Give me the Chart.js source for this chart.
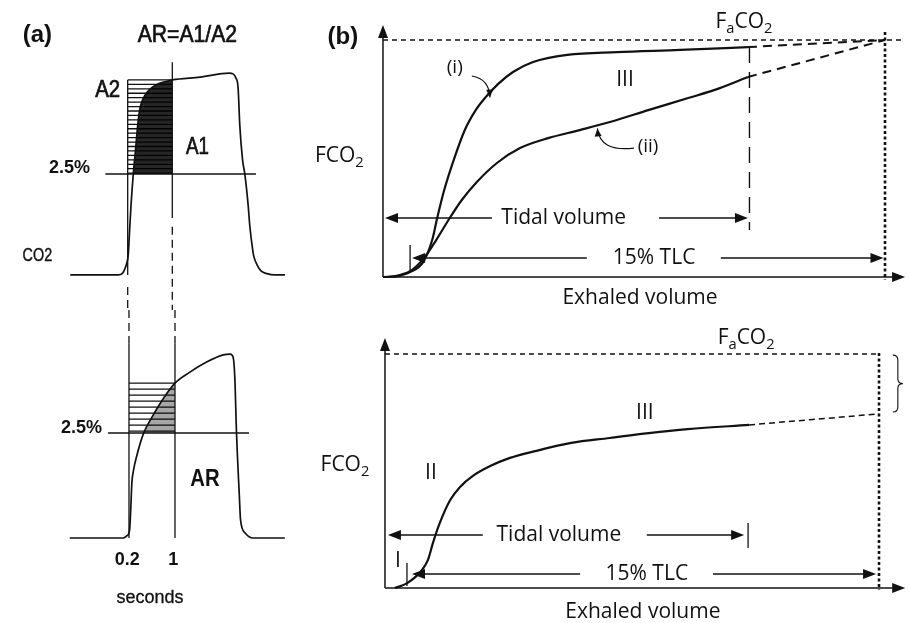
<!DOCTYPE html>
<html>
<head>
<meta charset="utf-8">
<script src="https://cdn.jsdelivr.net/npm/chart.js@4.4.1/dist/chart.umd.min.js"></script>
<style>
  body { margin: 0; background: #fff; width: 909px; height: 623px; position: relative; overflow: hidden; }
  canvas { position: absolute; }
</style>
</head>
<body>
<canvas id="aTop" width="300" height="310" style="left:0;top:0"></canvas>
<canvas id="aBot" width="300" height="313" style="left:0;top:310px"></canvas>
<canvas id="bTop" width="609" height="310" style="left:300px;top:0"></canvas>
<canvas id="bBot" width="609" height="313" style="left:300px;top:310px"></canvas>
<script>
// ---- (a) capnogram traces: time (s) and CO2 (%)
var aTopTime = [-0.83, 0.03, 0.10, 0.14, 0.18, 0.21, 0.23, 0.26, 0.30, 0.34, 0.38, 0.42, 0.50, 0.60, 0.74, 0.89, 1.00, 1.50, 2.02, 2.09, 2.14, 2.18, 2.21, 2.26, 2.30, 2.36, 2.39, 2.43, 2.46, 2.52, 2.59, 2.70, 2.84, 3.02];
var aTopCO2  = [0, 0, 0.03, 0.12, 0.27, 0.50, 0.99, 1.73, 2.50, 3.09, 3.71, 4.13, 4.43, 4.60, 4.73, 4.79, 4.83, 4.90, 5.00, 4.98, 4.88, 4.63, 3.71, 2.85, 2.50, 1.73, 1.21, 0.74, 0.47, 0.25, 0.10, 0.03, 0, 0];
var aBotTime = [-0.83, 0.10, 0.16, 0.21, 0.23, 0.25, 0.28, 0.33, 0.45, 0.60, 0.80, 1.00, 1.26, 1.55, 1.84, 1.96, 2.01, 2.04, 2.07, 2.12, 2.14, 2.22, 2.36, 2.91];
var aBotCO2  = [0, 0, 0.05, 0.19, 0.67, 1.31, 1.62, 1.93, 2.48, 2.88, 3.33, 3.69, 3.95, 4.19, 4.36, 4.38, 4.31, 3.83, 2.50, 0.98, 0.43, 0.12, 0, 0];
var threshold = 2.5;          // 2.5% line
var winStart = 0.2, winEnd = 1; // seconds
var tickVals = [0.2, 1];
var tickLabels = ['0.2', '1'];

// ---- (b) expirograms: exhaled volume (15% TLC = 1) and FCO2 (FaCO2 = 1)
var volI  = [0, 0.028, 0.054, 0.080, 0.098, 0.108, 0.122, 0.141, 0.163, 0.185, 0.203, 0.229, 0.259, 0.299, 0.367, 0.466, 0.592, 0.727];
var fco2I = [0, 0.004, 0.021, 0.063, 0.156, 0.249, 0.367, 0.494, 0.620, 0.705, 0.755, 0.814, 0.865, 0.907, 0.937, 0.949, 0.958, 0.970];
var volII  = [0.01, 0.034, 0.058, 0.082, 0.106, 0.133, 0.157, 0.187, 0.227, 0.273, 0.329, 0.392, 0.452, 0.530, 0.608, 0.671, 0.727];
var fco2II = [0, 0.008, 0.030, 0.080, 0.156, 0.249, 0.325, 0.401, 0.481, 0.544, 0.586, 0.620, 0.654, 0.705, 0.755, 0.797, 0.844];
var volLow  = [0.02, 0.045, 0.075, 0.087, 0.097, 0.111, 0.132, 0.152, 0.178, 0.213, 0.253, 0.304, 0.377, 0.455, 0.534, 0.613, 0.737];
var fco2Low = [0, 0.021, 0.077, 0.120, 0.192, 0.278, 0.376, 0.432, 0.479, 0.521, 0.556, 0.585, 0.620, 0.641, 0.662, 0.679, 0.697];
var tidalVol = 0.73, tlcVol = 1, FaCO2 = 1;
var lowExtrapEnd = 0.744; // where phase III line meets 15% TLC

var INK = '#111';
var ARIAL = '"Liberation Sans", Arial, sans-serif';
var MYR = '"Open Sans", "Noto Sans", sans-serif';

function S(c) {
  return { x: function (v) { return c.scales.x.getPixelForValue(v); },
           y: function (v) { return c.scales.y.getPixelForValue(v); } };
}
function seg(c, x1, y1, x2, y2, w, dash) {
  var g = c.ctx, s = S(c);
  g.save();
  g.strokeStyle = INK; g.lineWidth = w || 1.4; g.setLineDash(dash || []);
  g.beginPath(); g.moveTo(s.x(x1), s.y(y1)); g.lineTo(s.x(x2), s.y(y2)); g.stroke();
  g.restore();
}
function headPx(g, px, py, dx, dy, len, hw) {
  g.fillStyle = INK;
  g.beginPath();
  g.moveTo(px, py);
  g.lineTo(px - dx * len - dy * hw, py - dy * len + dx * hw);
  g.lineTo(px - dx * len + dy * hw, py - dy * len - dx * hw);
  g.closePath(); g.fill();
}
function head(c, x, y, dx, dy, len, hw) {
  var s = S(c);
  c.ctx.save(); headPx(c.ctx, s.x(x), s.y(y), dx, dy, len || 13, hw || 5); c.ctx.restore();
}
// heavy = extra outline to imitate the thick scanned lettering
function text(c, str, x, y, font, align, sx, heavy) {
  var g = c.ctx, s = S(c);
  g.save();
  g.font = font; g.fillStyle = INK; g.textBaseline = 'middle'; g.textAlign = align || 'center';
  g.translate(s.x(x), s.y(y)); g.scale(sx || 1, 1);
  g.fillText(str, 0, 0);
  if (heavy) { g.strokeStyle = INK; g.lineWidth = heavy; g.strokeText(str, 0, 0); }
  g.restore();
}
function subText(c, parts, x, y, size) {
  var g = c.ctx, s = S(c);
  g.save(); g.fillStyle = INK; g.textBaseline = 'middle'; g.textAlign = 'left';
  var fonts = parts.map(function (p) { return (p[1] ? size * 0.7 : size) + 'px ' + MYR; });
  var widths = parts.map(function (p, i) { g.font = fonts[i]; return g.measureText(p[0]).width; });
  var total = widths.reduce(function (a, b) { return a + b; }, 0);
  var cx = s.x(x) - total / 2, cy = s.y(y);
  parts.forEach(function (p, i) {
    g.font = fonts[i];
    g.fillText(p[0], cx, cy + (p[1] ? size * 0.32 : 0));
    cx += widths[i];
  });
  g.restore();
}
function curvedArrow(c, p0, p1, p2) {
  var g = c.ctx, s = S(c);
  var a = [s.x(p0[0]), s.y(p0[1])], b = [s.x(p1[0]), s.y(p1[1])], d = [s.x(p2[0]), s.y(p2[1])];
  g.save(); g.strokeStyle = INK; g.lineWidth = 1.1;
  g.beginPath(); g.moveTo(a[0], a[1]); g.quadraticCurveTo(b[0], b[1], d[0], d[1]); g.stroke();
  var dx = d[0] - b[0], dy = d[1] - b[1], L = Math.hypot(dx, dy);
  headPx(g, d[0], d[1], dx / L, dy / L, 8, 3.5);
  g.restore();
}
function brace(c, x, y0, y1, W) {
  var g = c.ctx, s = S(c);
  var X0 = s.x(x), T = s.y(y0), B = s.y(y1), M = (T + B) / 2, h = W / 2;
  g.save(); g.strokeStyle = INK; g.lineWidth = 1.1; g.beginPath();
  g.moveTo(X0, T);
  g.quadraticCurveTo(X0 + h, T, X0 + h, T + h);
  g.lineTo(X0 + h, M - h);
  g.quadraticCurveTo(X0 + h, M, X0 + W, M);
  g.quadraticCurveTo(X0 + h, M, X0 + h, M + h);
  g.lineTo(X0 + h, B - h);
  g.quadraticCurveTo(X0 + h, B, X0, B);
  g.stroke(); g.restore();
}
function hatch(c, v0, v1, step, w) {
  for (var v = v1; v >= v0 - 1e-6; v -= step) seg(c, winStart, v, winEnd, v, w);
}
function valueAt(xs, ys, x) {
  for (var i = 1; i < xs.length; i++) {
    if (xs[i] >= x) return ys[i - 1] + (ys[i] - ys[i - 1]) * (x - xs[i - 1]) / (xs[i] - xs[i - 1]);
  }
  return ys[ys.length - 1];
}
function pts(xs, ys) { return xs.map(function (x, i) { return { x: x, y: ys[i] }; }); }
function lineSet(xs, ys, extra) {
  var d = { data: pts(xs, ys), showLine: true, borderColor: INK, borderWidth: 2, pointRadius: 0,
            cubicInterpolationMode: 'monotone', fill: false };
  for (var k in extra) d[k] = extra[k];
  return d;
}
function windowSet(xs, ys, color) {
  var wx = [], wy = [];
  xs.forEach(function (x, i) { if (x >= winStart && x <= winEnd) { wx.push(x); wy.push(ys[i]); } });
  return lineSet(wx, wy, { borderWidth: 0, fill: { target: { value: threshold }, above: color, below: 'rgba(0,0,0,0)' } });
}
function makeChart(id, xr, yr, datasets, before, after) {
  return new Chart(document.getElementById(id), {
    type: 'scatter',
    data: { datasets: datasets },
    options: {
      responsive: false, animation: false, devicePixelRatio: 1,
      layout: { padding: 0 },
      plugins: { legend: { display: false }, tooltip: { enabled: false } },
      scales: {
        x: { type: 'linear', display: false, min: xr[0], max: xr[1] },
        y: { type: 'linear', display: false, min: yr[0], max: yr[1] }
      }
    },
    plugins: [{ id: 'deco', beforeDatasetsDraw: before, afterDatasetsDraw: after }]
  });
}

// ---------------- panel (a), upper trace
var topPeak = valueAt(aTopTime, aTopCO2, winEnd);
makeChart('aTop', [-2.09, 3.29], [-0.87, 6.81],
  [lineSet(aTopTime, aTopCO2, { borderWidth: 1.7 }), windowSet(aTopTime, aTopCO2, 'rgba(0,0,0,0.85)')],
  function (c) { hatch(c, threshold, topPeak, 0.11, 1.3); },
  function (c) {
    var ymin = c.scales.y.min;
    seg(c, winEnd, 5.27, winEnd, 1.41, 1.3);
    seg(c, winEnd, 1.19, winEnd, ymin, 1.3, [8, 5]);
    seg(c, winStart, topPeak, winStart, 0, 1.3);
    seg(c, winStart, -0.3, winStart, ymin, 1.3, [8, 5]);
    seg(c, -0.2, threshold, 2.5, threshold, 1.4);
    text(c, '(a)', -1.42, 5.94, 'bold 24px ' + ARIAL);
    text(c, 'AR=A1/A2', 1.27, 5.94, '24px ' + ARIAL, 'center', 0.88, 0.7);
    text(c, 'A2', -0.16, 4.58, '24px ' + ARIAL, 'center', 0.85, 0.7);
    text(c, 'A1', 1.45, 3.16, '24px ' + ARIAL, 'center', 0.78, 0.7);
    text(c, '2.5%', -0.475, 2.65, 'bold 18px ' + ARIAL, 'right');
    text(c, 'CO2', -1.42, 0.47, '18px ' + ARIAL, 'center', 0.8, 0.4);
  });

// ---------------- panel (a), lower trace
var botPeak = valueAt(aBotTime, aBotCO2, winEnd);
makeChart('aBot', [-2.043, 3.174], [-2.024, 5.429],
  [lineSet(aBotTime, aBotCO2, { borderWidth: 1.7 }), windowSet(aBotTime, aBotCO2, 'rgba(0,0,0,0.35)')],
  function (c) { hatch(c, threshold, botPeak, 0.143, 1.3); },
  function (c) {
    var ymax = c.scales.y.max;
    [winStart, winEnd].forEach(function (t) {
      seg(c, t, ymax, t, 4.64, 1.3, [8, 5]);
      seg(c, t, 4.64, t, 0, 1.3);
    });
    seg(c, -0.165, threshold, 2.287, threshold, 1.4);
    text(c, '2.5%', -0.27, 2.62, 'bold 18px ' + ARIAL, 'right');
    text(c, 'AR', 1.52, 1.38, 'bold 23px ' + ARIAL, 'center', 0.88);
    tickVals.forEach(function (t, i) { text(c, tickLabels[i], t - 0.03, -0.52, 'bold 18px ' + ARIAL); });
    text(c, 'seconds', 0.565, -1.43, '18px ' + ARIAL, 'center', 1, 0.3);
  });

// ---------------- panel (b), upper
var endI = fco2I[fco2I.length - 1], endII = fco2II[fco2II.length - 1];
makeChart('bTop', [-0.1653, 1.0478], [-0.1392, 1.1688],
  [lineSet(volI, fco2I, { borderWidth: 2.2 }),
   lineSet(volII, fco2II, { borderWidth: 2.2 }),
   lineSet([volI[volI.length - 1], tlcVol], [endI, FaCO2], { borderWidth: 2, borderDash: [9, 6] }),
   lineSet([volII[volII.length - 1], tlcVol], [endII, FaCO2], { borderWidth: 2, borderDash: [9, 6] })],
  null,
  function (c) {
    seg(c, 0, 0, 0, 1.03, 1.5); head(c, 0, 1.063, 0, -1, 13, 5);
    seg(c, 0, 0, 1.02, 0, 1.5); head(c, 1.04, 0, 1, 0, 13, 5);
    seg(c, 0, FaCO2, 1.032, FaCO2, 1.3, [5, 4]);
    seg(c, tlcVol, 1.034, tlcVol, -0.013, 2.6, [3, 2.5]);
    seg(c, tidalVol, 0.97, tidalVol, 0.198, 1.4, [16, 9]);
    // tidal volume arrow
    seg(c, 0.01, 0.249, 0.217, 0.249, 1.5); head(c, 0.004, 0.249, -1, 0);
    seg(c, 0.55, 0.249, tidalVol - 0.01, 0.249, 1.5); head(c, tidalVol - 0.003, 0.249, 1, 0);
    text(c, 'Tidal volume', 0.36, 0.249, '21px ' + MYR);
    // 15% TLC arrow
    seg(c, 0.054, 0.135, 0.054, 0.03, 1.3);
    seg(c, 0.065, 0.08, 0.406, 0.08, 1.5); head(c, 0.058, 0.08, -1, 0);
    seg(c, 0.673, 0.08, 0.99, 0.08, 1.5); head(c, 0.997, 0.08, 1, 0);
    text(c, '15% TLC', 0.54, 0.08, '21px ' + MYR);
    // curve labels
    curvedArrow(c, [0.177, 0.848], [0.212, 0.835], [0.213, 0.757]);
    curvedArrow(c, [0.5, 0.544], [0.432, 0.527], [0.427, 0.627]);
    text(c, '(i)', 0.143, 0.882, '19px ' + MYR);
    text(c, '(ii)', 0.528, 0.549, '19px ' + MYR);
    text(c, 'III', 0.482, 0.831, '21px ' + MYR);
    text(c, '(b)', -0.08, 1.01, 'bold 24px ' + ARIAL);
    subText(c, [['F', 0], ['a', 1], ['CO', 0], ['2', 1]], 0.719, 1.076, 21);
    subText(c, [['FCO', 0], ['2', 1]], -0.087, 0.511, 21);
    text(c, 'Exhaled volume', 0.512, -0.089, '21px ' + MYR);
  });

// ---------------- panel (b), lower
var endLow = fco2Low[fco2Low.length - 1];
makeChart('bBot', [-0.172, 1.0607], [-0.1496, 1.188],
  [lineSet(volLow, fco2Low, { borderWidth: 2.2 }),
   lineSet([volLow[volLow.length - 1], tlcVol], [endLow, lowExtrapEnd], { borderWidth: 1.5, borderDash: [6, 4] })],
  null,
  function (c) {
    seg(c, 0, 0, 0, 1.04, 1.5); head(c, 0, 1.068, 0, -1, 13, 5);
    seg(c, 0, 0, 1.03, 0, 1.5); head(c, 1.053, 0, 1, 0, 13, 5);
    seg(c, 0, FaCO2, tlcVol, FaCO2, 1.3, [5, 4]);
    seg(c, tlcVol, 1.004, tlcVol, -0.0085, 2.6, [3, 2.5]);
    brace(c, 1.028, FaCO2 - 0.005, lowExtrapEnd + 0.008, 10);
    // tidal volume arrow
    seg(c, 0.012, 0.226, 0.198, 0.226, 1.5); head(c, 0.006, 0.226, -1, 0);
    seg(c, 0.53, 0.226, tidalVol - 0.01, 0.226, 1.5); head(c, tidalVol - 0.003, 0.226, 1, 0);
    seg(c, tidalVol + 0.005, 0.278, tidalVol + 0.005, 0.171, 1.3);
    text(c, 'Tidal volume', 0.352, 0.226, '21px ' + MYR);
    // 15% TLC arrow
    seg(c, 0.0445, 0.107, 0.0445, 0.0085, 1.3);
    seg(c, 0.06, 0.06, 0.395, 0.06, 1.5); head(c, 0.0547, 0.06, -1, 0);
    seg(c, 0.664, 0.06, 0.99, 0.06, 1.5); head(c, 0.994, 0.06, 1, 0);
    text(c, '15% TLC', 0.53, 0.06, '21px ' + MYR);
    text(c, 'III', 0.526, 0.748, '21px ' + MYR);
    text(c, 'II', 0.093, 0.491, '21px ' + MYR);
    text(c, 'I', 0.026, 0.115, '21px ' + MYR);
    subText(c, [['F', 0], ['a', 1], ['CO', 0], ['2', 1]], 0.731, 1.068, 21);
    subText(c, [['FCO', 0], ['2', 1]], -0.081, 0.526, 21);
    text(c, 'Exhaled volume', 0.522, -0.103, '21px ' + MYR);
  });
</script>
</body>
</html>
